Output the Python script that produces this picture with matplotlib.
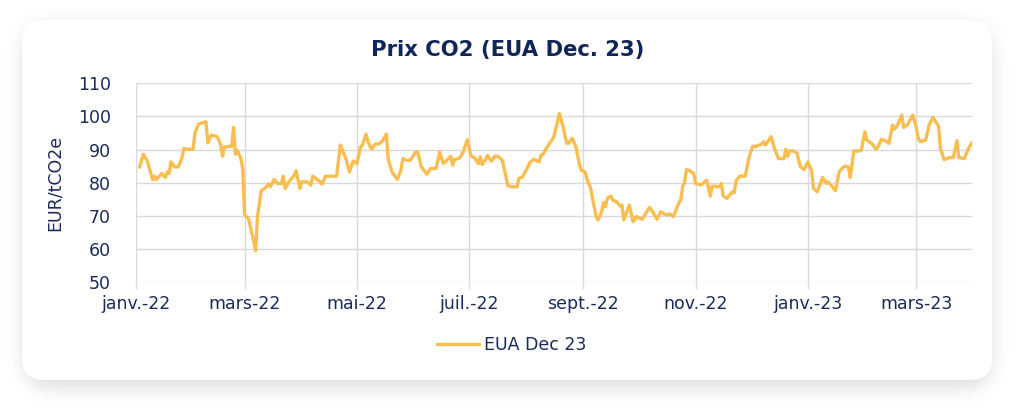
import matplotlib
matplotlib.use("Agg")
import matplotlib.pyplot as plt
from matplotlib.patches import FancyBboxPatch
import numpy as np
import pandas as pd

# EUA Dec 23 settlement prices (EUR/tCO2e)
dates = [
    "2022-01-03", "2022-01-05", "2022-01-07", "2022-01-10", "2022-01-11", "2022-01-12",
    "2022-01-15", "2022-01-17", "2022-01-18", "2022-01-19", "2022-01-20", "2022-01-22",
    "2022-01-24", "2022-01-26", "2022-01-27", "2022-01-29", "2022-02-01", "2022-02-02",
    "2022-02-04", "2022-02-06", "2022-02-08", "2022-02-09", "2022-02-11", "2022-02-14",
    "2022-02-15", "2022-02-16", "2022-02-17", "2022-02-18", "2022-02-21", "2022-02-22",
    "2022-02-23", "2022-02-24", "2022-02-25", "2022-02-27", "2022-02-28", "2022-03-01",
    "2022-03-03", "2022-03-05", "2022-03-07", "2022-03-08", "2022-03-10", "2022-03-12",
    "2022-03-14", "2022-03-15", "2022-03-17", "2022-03-19", "2022-03-21", "2022-03-22",
    "2022-03-23", "2022-03-25", "2022-03-28", "2022-03-29", "2022-03-31", "2022-04-01",
    "2022-04-04", "2022-04-06", "2022-04-07", "2022-04-08", "2022-04-11", "2022-04-12",
    "2022-04-14", "2022-04-16", "2022-04-20", "2022-04-22", "2022-04-25", "2022-04-27",
    "2022-04-29", "2022-05-01", "2022-05-03", "2022-05-04", "2022-05-06", "2022-05-07",
    "2022-05-09", "2022-05-11", "2022-05-13", "2022-05-15", "2022-05-17", "2022-05-18",
    "2022-05-20", "2022-05-23", "2022-05-25", "2022-05-26", "2022-05-28", "2022-05-30",
    "2022-06-02", "2022-06-03", "2022-06-05", "2022-06-08", "2022-06-10", "2022-06-13",
    "2022-06-15", "2022-06-17", "2022-06-21", "2022-06-22", "2022-06-23", "2022-06-26",
    "2022-06-28", "2022-06-30", "2022-07-02", "2022-07-04", "2022-07-06", "2022-07-07",
    "2022-07-08", "2022-07-10", "2022-07-11", "2022-07-13", "2022-07-15", "2022-07-17",
    "2022-07-19", "2022-07-21", "2022-07-22", "2022-07-24", "2022-07-27", "2022-07-28",
    "2022-07-30", "2022-08-01", "2022-08-03", "2022-08-05", "2022-08-08", "2022-08-09",
    "2022-08-10", "2022-08-13", "2022-08-15", "2022-08-16", "2022-08-18", "2022-08-19",
    "2022-08-21", "2022-08-23", "2022-08-24", "2022-08-26", "2022-08-28", "2022-08-30",
    "2022-08-31", "2022-09-02", "2022-09-03", "2022-09-05", "2022-09-06", "2022-09-07",
    "2022-09-08", "2022-09-09", "2022-09-11", "2022-09-12", "2022-09-13", "2022-09-14",
    "2022-09-16", "2022-09-17", "2022-09-19", "2022-09-21", "2022-09-22", "2022-09-23",
    "2022-09-25", "2022-09-26", "2022-09-28", "2022-09-29", "2022-09-30", "2022-10-03",
    "2022-10-05", "2022-10-07", "2022-10-09", "2022-10-11", "2022-10-13", "2022-10-15",
    "2022-10-16", "2022-10-18", "2022-10-20", "2022-10-22", "2022-10-24", "2022-10-25",
    "2022-10-26", "2022-10-27", "2022-10-29", "2022-10-31", "2022-11-01", "2022-11-04",
    "2022-11-07", "2022-11-09", "2022-11-10", "2022-11-14", "2022-11-15", "2022-11-16",
    "2022-11-18", "2022-11-21", "2022-11-22", "2022-11-23", "2022-11-25", "2022-11-28",
    "2022-11-30", "2022-12-02", "2022-12-04", "2022-12-07", "2022-12-08", "2022-12-09",
    "2022-12-12", "2022-12-14", "2022-12-16", "2022-12-19", "2022-12-20", "2022-12-21",
    "2022-12-22", "2022-12-24", "2022-12-26", "2022-12-28", "2022-12-30", "2023-01-01",
    "2023-01-03", "2023-01-04", "2023-01-06", "2023-01-08", "2023-01-09", "2023-01-11",
    "2023-01-12", "2023-01-14", "2023-01-16", "2023-01-18", "2023-01-20", "2023-01-21",
    "2023-01-23", "2023-01-24", "2023-01-26", "2023-01-29", "2023-01-30", "2023-02-01",
    "2023-02-02", "2023-02-05", "2023-02-07", "2023-02-08", "2023-02-10", "2023-02-13",
    "2023-02-14", "2023-02-16", "2023-02-17", "2023-02-19", "2023-02-21", "2023-02-22",
    "2023-02-24", "2023-02-27", "2023-03-01", "2023-03-02", "2023-03-03", "2023-03-06",
    "2023-03-08", "2023-03-10", "2023-03-13", "2023-03-14", "2023-03-16", "2023-03-19",
    "2023-03-21", "2023-03-23", "2023-03-24", "2023-03-27", "2023-03-29", "2023-03-31",
]
prices = [
    84.8, 88.6, 86.8, 81.0, 82.0, 81.0,
    82.8, 81.6, 83.3, 82.8, 86.3, 84.8,
    84.8, 87.6, 90.4, 90.1, 90.1, 94.9,
    97.7, 98.1, 98.4, 92.0, 94.4, 93.9,
    92.9, 91.4, 88.0, 90.8, 91.0, 91.0,
    96.7, 88.6, 89.8, 87.3, 84.3, 70.3,
    69.3, 64.8, 59.5, 69.8, 77.6, 78.3,
    79.6, 78.8, 81.0, 79.8, 79.8, 82.0,
    78.3, 80.3, 82.3, 83.6, 78.3, 80.3,
    80.3, 79.3, 82.0, 81.6, 80.3, 79.6,
    82.0, 82.0, 82.0, 91.4, 87.3, 83.3,
    86.6, 85.8, 90.8, 91.4, 94.7, 92.4,
    90.1, 91.7, 91.7, 92.7, 94.7, 87.3,
    83.3, 81.0, 84.0, 87.3, 86.8, 86.8,
    89.3, 89.3, 84.8, 82.6, 84.3, 84.3,
    89.3, 85.8, 88.0, 85.3, 87.0, 87.5,
    89.7, 93.0, 88.0, 87.5, 85.8, 87.8,
    85.5, 87.1, 88.3, 86.5, 88.1, 87.8,
    86.8, 81.8, 79.1, 78.8, 78.8, 81.3,
    81.8, 83.8, 86.1, 87.1, 86.3, 88.3,
    88.5, 91.4, 92.9, 93.9, 98.4, 100.9,
    96.9, 91.9, 91.9, 93.4, 90.8, 85.3,
    83.8, 83.3, 81.1, 78.3, 75.3, 72.6,
    69.8, 68.8, 71.3, 74.0, 72.8, 75.3,
    76.0, 74.8, 74.3, 73.0, 73.3, 68.8,
    71.8, 73.3, 68.3, 69.0, 69.8, 69.0,
    70.8, 72.6, 71.0, 69.0, 71.3, 70.6,
    70.3, 70.6, 69.8, 72.8, 75.0, 79.0,
    80.0, 84.0, 83.6, 82.8, 79.8, 79.3,
    80.8, 76.0, 79.0, 78.8, 79.8, 76.0,
    75.3, 77.3, 77.0, 80.6, 82.0, 82.0,
    87.6, 91.0, 91.0, 91.7, 92.4, 91.4,
    93.9, 90.1, 87.3, 87.3, 90.1, 88.0,
    89.6, 89.6, 89.0, 84.8, 84.0, 86.3,
    83.8, 78.3, 77.3, 80.0, 81.6, 79.8,
    80.3, 79.0, 77.6, 83.3, 84.6, 85.0,
    84.8, 81.6, 89.6, 89.6, 89.8, 95.4,
    92.9, 91.7, 90.1, 90.7, 93.1, 92.4,
    91.9, 97.4, 96.1, 97.7, 100.4, 96.7,
    97.4, 100.4, 96.4, 93.4, 92.4, 92.9,
    97.7, 99.7, 97.1, 90.4, 87.0, 87.6,
    87.6, 92.7, 87.6, 87.3, 90.1, 92.0,
]

tick_dates = ["2022-01-01", "2022-03-01", "2022-05-01", "2022-07-01",
              "2022-09-01", "2022-11-01", "2023-01-01", "2023-03-01"]
tick_labels = ["janv.-22", "mars-22", "mai-22", "juil.-22",
               "sept.-22", "nov.-22", "janv.-23", "mars-23"]
y_ticks = [50, 60, 70, 80, 90, 100, 110]

navy = "#1b2a5c"
title_navy = "#10265a"
line_color = "#f9be4f"
grid_color = "#d9d9d9"

plt.rcParams["font.family"] = ["DejaVu Sans"]

fig = plt.figure(figsize=(10.24, 4.13), dpi=100)
fig.patch.set_facecolor("white")

# background: white card with a soft blurred shadow, drawn in pixel units
bg = fig.add_axes([0, 0, 1, 1])
bg.axis("off")

W, H = 1024, 413
yy, xx = np.mgrid[0:H, 0:W]
x0, x1, y0, y1, r = 24, 990, 26, 386, 22
cx = np.clip(xx, x0 + r, x1 - r)
cy = np.clip(yy, y0 + r, y1 - r)
mask = ((xx - cx) ** 2 + (yy - cy) ** 2 <= r * r).astype(float)
# separable gaussian blur
sig = 9
k = np.exp(-0.5 * (np.arange(-3 * sig, 3 * sig + 1) / sig) ** 2)
k /= k.sum()
blur = np.apply_along_axis(lambda v: np.convolve(v, k, mode="same"), 1, mask)
blur = np.apply_along_axis(lambda v: np.convolve(v, k, mode="same"), 0, blur)
shadow = np.zeros((H, W, 4))
shadow[..., :3] = 0.35
shadow[..., 3] = blur * 0.22
bg.imshow(shadow, extent=(0, W, H, 0), interpolation="bilinear")
bg.set_xlim(0, W)
bg.set_ylim(H, 0)
bg.add_patch(FancyBboxPatch((22, 20), 970, 360, boxstyle="round,pad=0,rounding_size=22",
                            facecolor="white", edgecolor="none"))

ax = fig.add_axes([136 / 1024, 1 - 282.3 / 413, (971.7 - 136) / 1024, (282.3 - 83.3) / 413])
ax.set_facecolor("none")

x = pd.to_datetime(dates)
ax.plot(x, prices, color=line_color, linewidth=2.4, label="EUA Dec 23",
        solid_joinstyle="round")

ax.set_xlim(pd.Timestamp("2022-01-01"), pd.Timestamp("2023-03-31"))
ax.set_ylim(50, 110)
ax.set_yticks(y_ticks)
ax.set_xticks(pd.to_datetime(tick_dates))
ax.set_xticklabels(tick_labels)

ax.grid(True, color=grid_color, linewidth=1)
ax.set_axisbelow(True)
for s in ax.spines.values():
    s.set_visible(False)
ax.tick_params(axis="x", colors=grid_color, length=5, width=1, pad=4, labelcolor=navy,
               labelsize=12.5)
ax.tick_params(axis="y", length=0, pad=18, labelcolor=navy, labelsize=12.5)

ax.set_ylabel("EUR/tCO2e", color=navy, fontsize=12.5, labelpad=10)

fig.text(508 / 1024, 1 - 50 / 413, "Prix CO2 (EUA Dec. 23)", ha="center", va="center",
         fontsize=15.2, fontweight="bold", color=title_navy)

leg = ax.legend(loc="center", bbox_to_anchor=(512 / 1024, 1 - 345 / 413),
                bbox_transform=fig.transFigure, frameon=False, fontsize=12.5,
                handlelength=2.4, handletextpad=0.3)
for t in leg.get_texts():
    t.set_color(navy)

fig.savefig("out.png", dpi=100, facecolor="white")
